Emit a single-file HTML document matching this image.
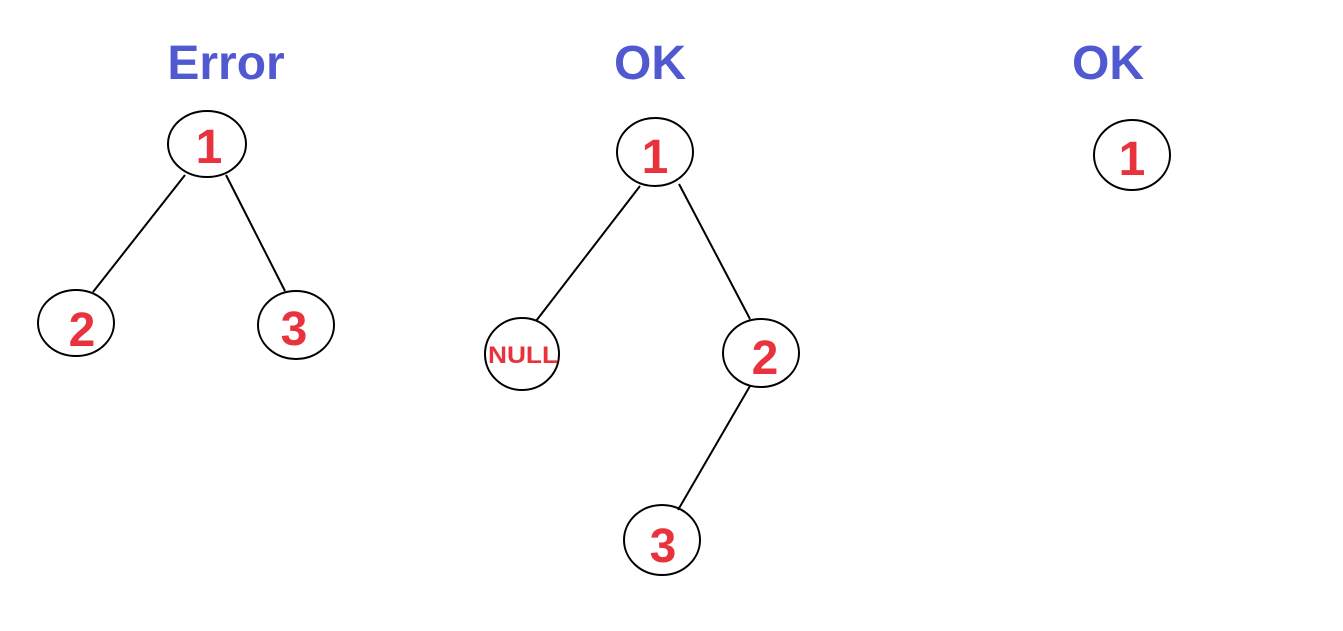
<!DOCTYPE html>
<html><head><meta charset="utf-8"><style>html,body{margin:0;padding:0;background:#fff}</style></head>
<body>
<svg width="1343" height="626" xmlns="http://www.w3.org/2000/svg" font-family="Liberation Sans, DejaVu Sans, sans-serif" font-weight="bold">
<g fill="#5159d1" font-size="48" text-anchor="middle">
<text x="226" y="79">Error</text>
<text x="650" y="79">OK</text>
<text x="1108" y="79">OK</text>
</g>
<g stroke="#000" stroke-width="2" fill="none">
<line x1="185" y1="175" x2="93" y2="292"/>
<line x1="226" y1="175" x2="285" y2="291"/>
<line x1="640" y1="186" x2="536" y2="321"/>
<line x1="679" y1="184" x2="750" y2="319"/>
<line x1="750" y1="386" x2="678" y2="510"/>
<ellipse cx="207" cy="144" rx="39" ry="33"/>
<ellipse cx="76" cy="323" rx="38" ry="33"/>
<ellipse cx="296" cy="325" rx="38" ry="34"/>
<ellipse cx="655" cy="152" rx="38" ry="34"/>
<ellipse cx="522" cy="354" rx="37" ry="36"/>
<ellipse cx="761" cy="353" rx="38" ry="34"/>
<ellipse cx="662" cy="540" rx="38" ry="35"/>
<ellipse cx="1132" cy="155" rx="38" ry="35"/>
</g>
<g fill="#e8333d" font-size="48" text-anchor="middle">
<text x="209" y="163">1</text>
<text x="82" y="346">2</text>
<text x="294" y="345">3</text>
<text x="655" y="173">1</text>
<text x="765" y="374">2</text>
<text x="663" y="562">3</text>
<text x="1132" y="175">1</text>
<text x="523" y="363" font-size="24" textLength="70" lengthAdjust="spacingAndGlyphs">NULL</text>
</g>
</svg>
</body></html>
